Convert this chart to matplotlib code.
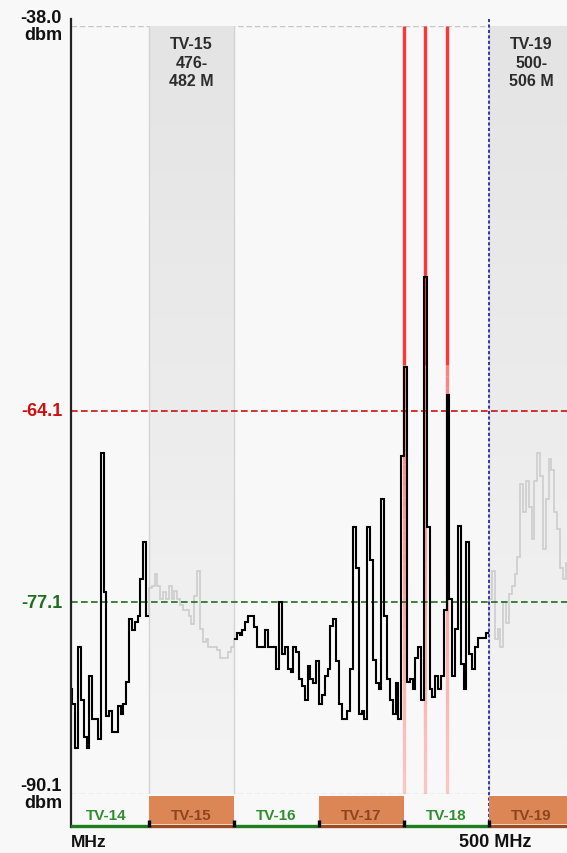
import numpy as np
import matplotlib
matplotlib.use("Agg")
import matplotlib.pyplot as plt
from matplotlib import transforms
from matplotlib.collections import LineCollection
from matplotlib.colors import ListedColormap, to_rgba

plt.rcParams['font.family'] = ['Liberation Sans', 'DejaVu Sans']

# spectrum trace, one level (dBm) per 0.2 MHz bin, first bin starts at 470.4 MHz
bin_start = 470.4
bin_width = 0.2
levels = [
    -83.0, -84.0, -87.0, -80.1, -83.7, -86.2, -87.0, -82.1, -85.0, -85.0,
    -86.4, -67.0, -76.4, -84.8, -84.5, -85.9, -85.9, -84.1, -84.7, -84.0,
    -82.5, -78.2, -79.0, -78.4, -78.0, -75.5, -73.0, -78.0,
    -76.1, -76.0, -75.2, -76.0, -76.9, -76.4, -76.9, -76.0, -76.9, -76.3,
    -76.9, -77.3, -77.6, -77.6, -78.0, -78.6, -76.7, -75.0, -78.9, -79.8,
    -79.6, -80.1, -80.1, -80.1, -80.3, -80.9, -80.9, -80.9, -80.5, -80.1,
    -79.6, -79.2, -79.3, -79.0, -78.4, -78.0, -78.0, -78.8, -80.1, -80.1,
    -80.1, -79.0, -80.1, -80.1, -80.1, -81.6, -77.1, -80.6, -80.1, -81.6,
    -81.8, -80.1, -80.5, -82.3, -82.8, -83.7, -81.4, -82.3, -82.6, -81.1,
    -84.0, -83.4, -82.1, -81.6, -78.7, -78.2, -81.1, -84.0, -85.0, -85.0,
    -84.5, -81.6, -72.0, -74.8, -84.7, -84.5, -85.0, -72.0, -74.2, -81.0,
    -82.6, -83.0, -70.1, -78.0, -82.3, -83.7, -84.7, -82.6, -85.0, -67.2,
    -61.1, -82.5, -82.3, -83.0, -80.9, -80.1, -83.7, -55.0, -72.0, -83.0,
    -83.5, -82.1, -83.0, -82.1, -77.6, -63.0, -76.9, -82.1, -78.9, -71.9,
    -81.3, -83.0, -73.0, -80.6, -81.6, -80.1, -79.5, -79.5, -79.5, -79.2,
    -76.9, -75.0, -79.6, -78.9, -80.1, -77.1, -78.5, -76.5, -76.0, -75.2,
    -74.0, -69.1, -71.0, -68.9, -70.6, -72.8, -68.9, -67.0, -68.5, -73.5,
    -70.1, -67.4, -68.1, -71.0, -72.1, -74.8, -75.5, -74.4,
]

channels = ["TV-14", "TV-15", "TV-16", "TV-17", "TV-18", "TV-19"]
chan_lo = [470, 476, 482, 488, 494, 500]
chan_hi = [476, 482, 488, 494, 500, 506]
chan_busy = [False, True, False, True, False, True]
shaded = {"TV-15": "476-\n482 M", "TV-19": "500-\n506 M"}

marker_freqs = [494.0, 495.5, 497.0]
top_db = -38.0
bottom_db = -90.1
red_db = -64.1
green_db = -77.1
x_min, x_max = 470.5, 505.5
end_mhz = 500

W, H = 567, 854
bg = '#f8f8f8'
fig = plt.figure(figsize=(W / 100, H / 100), dpi=100, facecolor=bg)

def fy(py):
    return 1 - py / H

ax = fig.add_axes([71 / W, fy(795), (W - 71) / W, (795 - 27) / H])
ax.axis('off')

edges = bin_start + bin_width * np.arange(len(levels) + 1)
centers = (edges[:-1] + edges[1:]) / 2
vals = np.array(levels)

# greyed channel boxes with a soft vertical gradient
shade_cmap = ListedColormap(np.linspace(to_rgba('#e4e4e4'), to_rgba('#f4f4f4'), 64))
for name, lo, hi in zip(channels, chan_lo, chan_hi):
    if name not in shaded:
        continue
    g = np.linspace(0, 1, 100).reshape(-1, 1)
    ax.imshow(g, extent=(lo, hi, bottom_db, top_db), aspect='auto',
              cmap=shade_cmap, origin='upper', zorder=1)
    ax.plot([lo, lo], [bottom_db, top_db], color='#d4d4d4', lw=1, zorder=1.2)
    ax.plot([hi, hi], [bottom_db, top_db], color='#d4d4d4', lw=1, zorder=1.2)
    ax.text((lo + min(hi, x_max + 0.6)) / 2, -40.45, name + "\n" + shaded[name],
            ha='center', va='center', fontsize=11.5, fontweight='bold',
            color='#2c2c2c', linespacing=1.3, zorder=6)

ax.set_xlim(x_min, x_max)
ax.set_ylim(bottom_db, top_db)

for yv in (top_db, bottom_db):
    ax.axhline(yv, color='#c6c6c6', lw=1, ls=(0, (4, 2)), zorder=0.5)

# red markers, fading towards the bottom
for f in marker_freqs:
    ax.plot([f, f], [top_db, -61.0], color='#ff3636', lw=2.4, zorder=3,
            solid_capstyle='butt')
    ys = np.linspace(-61.0, bottom_db, 40)
    segs = [[(f, ys[k]), (f, ys[k + 1])] for k in range(len(ys) - 1)]
    alphas = np.linspace(0.6, 0.25, len(segs))
    cols = [(1.0, 0.2, 0.2, a) for a in alphas]
    ax.add_collection(LineCollection(segs, colors=cols, lw=2.4, zorder=3,
                                     capstyle='butt'))

ax.axhline(red_db, color='#d01010', lw=1.2, ls=(0, (4, 2)), zorder=4.5)
ax.axhline(green_db, color='#1d6e1d', lw=1.2, ls=(0, (4, 2)), zorder=4.5)

# trace: grey in shaded channels, black elsewhere
ax.stairs(vals, edges, baseline=None, color='#cdcdcd', lw=1.2, zorder=4)
in_shade = np.zeros(len(vals), dtype=bool)
for name, lo, hi in zip(channels, chan_lo, chan_hi):
    if name in shaded:
        in_shade |= (centers > lo) & (centers < hi)
k = 0
while k < len(vals):
    if in_shade[k]:
        k += 1
        continue
    j = k
    while j < len(vals) and not in_shade[j]:
        j += 1
    ax.stairs(vals[k:j], edges[k:j + 1], baseline=None, color='black',
              lw=1.5, zorder=5)
    k = j

# left axis line and 500 MHz marker spanning the whole chart
blend = transforms.blended_transform_factory(ax.transData, fig.transFigure)
ax.plot([x_min, x_min], [fy(20), fy(828)], transform=blend, color='#222222',
        lw=1.6, clip_on=False, zorder=7)
ax.plot([end_mhz, end_mhz], [fy(20), fy(827)], transform=blend,
        color='#3434b0', lw=1.4, ls=(0, (1.6, 1.2)), clip_on=False, zorder=7)

# level labels
lab = transforms.blended_transform_factory(fig.transFigure, ax.transData)
for yv, txt, col in [(top_db, "%.1f\ndbm" % top_db, '#111111'),
                     (bottom_db, "%.1f\ndbm" % bottom_db, '#111111'),
                     (red_db, "%.1f" % red_db, '#d01010'),
                     (green_db, "%.1f" % green_db, '#1d6e1d')]:
    fig.text(62 / W, yv, txt, transform=lab, ha='right', va='center',
             fontsize=13, fontweight='bold', color=col, linespacing=1.0)

# channel band under the plot
bax = fig.add_axes([71 / W, fy(830), (W - 71) / W, 34 / H])
bax.axis('off')
bax.set_xlim(x_min, x_max)
bax.set_ylim(0, 1)
for name, lo, hi, busy in zip(channels, chan_lo, chan_hi, chan_busy):
    if busy:
        bax.fill_between([lo, hi], 0.147, 0.97, color='#dc8656', lw=0)
    bax.plot([lo, hi], [0.10, 0.10], color='#9c4a1e' if busy else '#1f7d1f',
             lw=2.4, solid_capstyle='butt')
    bax.text((lo + hi) / 2, 0.42, name, ha='center', va='center',
             fontsize=11, fontweight='bold',
             color='#8c4520' if busy else '#2f8f2f')
for b in chan_lo[1:]:
    bax.plot([b, b], [0.05, 0.27], color='black', lw=2.4,
             solid_capstyle='butt')

fig.text(71 / W, fy(843), "MHz", ha='left', va='center', fontsize=12.5,
         fontweight='bold', color='#111111')
fig.text(ax.transData.transform((end_mhz + 0.42, 0))[0] / W, fy(843),
         "%d MHz" % end_mhz, ha='center', va='center', fontsize=13,
         fontweight='bold', color='#111111')

fig.savefig("out.png", dpi=100, facecolor=bg)
